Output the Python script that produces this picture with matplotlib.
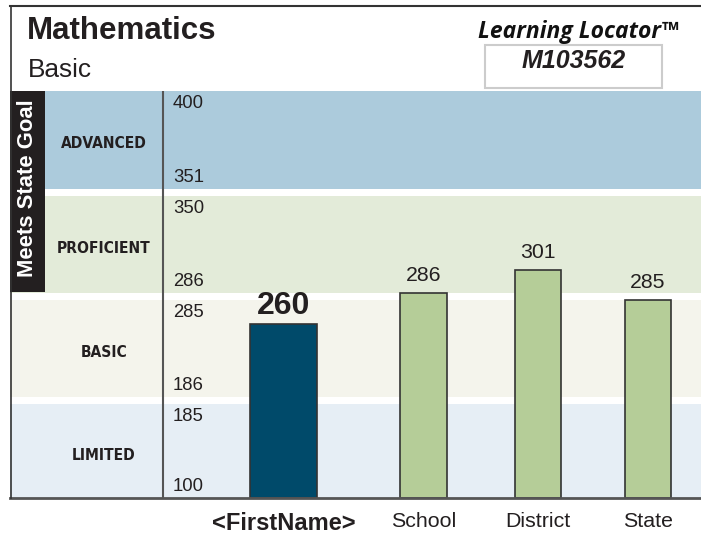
import numpy as np
import matplotlib
matplotlib.use('Agg')
import matplotlib.pyplot as plt
from matplotlib import font_manager as fm
from matplotlib.patches import Rectangle
from matplotlib.lines import Line2D
from matplotlib.ticker import NullLocator

plt.rcParams['font.family'] = ['Liberation Sans', 'DejaVu Sans']

# --- data ---
groups = ['<FirstName>', 'School', 'District', 'State']
scores = [260, 286, 301, 285]
levels = ['LIMITED', 'BASIC', 'PROFICIENT', 'ADVANCED']
level_low = [100, 186, 286, 351]
level_high = [185, 285, 350, 400]

# --- styles / layout ---
level_colors = ['#e6eef5', '#f4f4ec', '#e3ebd9', '#accbdc']
bar_colors = ['#004a6a', '#b5cd98', '#b5cd98', '#b5cd98']
x_pos = [284, 424, 538, 648]
widths = [67, 47, 46, 46]

# every level band gets the same height, 1 point gap between bands
score_knots = [100, 185, 186, 285, 286, 350, 351, 400]
pos_knots = [0, 94, 101, 198, 205, 302, 309, 407]


def fwd(v):
    return np.interp(v, score_knots, pos_knots)


def inv(p):
    return np.interp(p, pos_knots, score_knots)


# condensed bold face for the level names, if one is installed
cond = [f for f in fm.fontManager.ttflist
        if (f.stretch in ('condensed', 'semi-condensed', 'extra-condensed', 550, 600, 650)
            or 'Narrow' in f.name or 'Condensed' in f.name) and f.style == 'normal']
cond_bold = [f for f in cond if f.weight in ('bold', 700)] + \
            [f for f in cond if f.weight in ('semibold', 600)]
if cond_bold:
    level_font = dict(fontproperties=fm.FontProperties(fname=cond_bold[0].fname, size=11.2))
else:
    level_font = dict(fontsize=10.3, fontweight='bold')

W, H = 701, 534
fig = plt.figure(figsize=(W / 100, H / 100), dpi=100)


def fx(px):
    return px / W


def fy(py):
    return 1 - py / H


ax = fig.add_axes([fx(10), fy(498), fx(701) - fx(10), fy(91) - fy(498)])
ax.set_xlim(10, 701)
ax.set_yscale('function', functions=(fwd, inv))
ax.set_ylim(100, 400)
ax.yaxis.set_major_locator(NullLocator())
ax.yaxis.set_minor_locator(NullLocator())

for lo, hi, c, name in zip(level_low, level_high, level_colors, levels):
    ax.axhspan(lo, hi, color=c, lw=0, zorder=0)
    ax.annotate(name, (104, (lo + hi) / 2), xytext=(0, -4), textcoords='offset pixels',
                ha='center', va='center', color='#231f20', **level_font)
    ax.annotate(str(hi), (173, hi), xytext=(0, -4), textcoords='offset pixels',
                ha='left', va='top', fontsize=13.3, color='#231f20')
    ax.annotate(str(lo), (173, lo), xytext=(0, 3), textcoords='offset pixels',
                ha='left', va='bottom', fontsize=13.3, color='#231f20')

# black "Meets State Goal" tab
ax.add_patch(Rectangle((10, 286.5), 35, 400 - 286.5, color='#231f20', lw=0,
                       zorder=3, clip_on=False))
ax.text(28, inv(498 - 188), 'Meets State Goal', rotation=90,
        ha='center', va='center', fontsize=15.8, fontweight='bold', color='white', zorder=4)

ax.axvline(163, color='#555555', lw=1.5, zorder=3)

bars = ax.bar(x_pos, np.array(scores) - 100, bottom=100, width=widths,
              color=bar_colors, edgecolor='#333333', lw=1.2, zorder=2)

for i, (x, s) in enumerate(zip(x_pos, scores)):
    if i == 0:
        ax.annotate(str(s), (x, s), xytext=(0, 10), textcoords='offset pixels',
                    ha='center', va='baseline', fontsize=23, fontweight='bold', color='#231f20')
    else:
        ax.annotate(str(s), (x, s), xytext=(0, 12), textcoords='offset pixels',
                    ha='center', va='baseline', fontsize=15.3, color='#231f20')

ax.set_xticks(x_pos, groups)
ax.tick_params(axis='x', length=0, pad=10, labelsize=15.4, labelcolor='#231f20')
first = ax.get_xticklabels()[0]
first.set_fontweight('bold')
first.set_fontsize(17)

for s in ['left', 'right', 'top']:
    ax.spines[s].set_visible(False)
ax.spines['bottom'].set_color('#555555')
ax.spines['bottom'].set_linewidth(2)

# header frame
fig.add_artist(Line2D([fx(10), 1], [fy(6), fy(6)], color='#333333', lw=1.5))
fig.add_artist(Line2D([fx(11), fx(11)], [fy(6), fy(498)], color='#333333', lw=1.2))

fig.text(fx(27), fy(39), 'Mathematics', fontsize=22.5, fontweight='bold', va='baseline',
         color='#231f20')
fig.text(fx(27.5), fy(77), 'Basic', fontsize=18.9, va='baseline', color='#231f20')
fig.text(fx(678), fy(38), 'Learning Locator™', ha='right', va='baseline', fontsize=16.5,
         fontweight='bold', style='italic', family=['Open Sans', 'DejaVu Sans'], color='#111111')

fig.add_artist(Rectangle((fx(485), fy(88)), fx(662) - fx(485), fy(45) - fy(88),
                         transform=fig.transFigure, fill=False, ec='#cccccc', lw=1.5))
fig.text(fx(574), fy(68.5), 'M103562', ha='center', va='baseline', fontsize=18,
         fontweight='bold', style='italic', color='#231f20')

fig.savefig('out.png', dpi=100)
